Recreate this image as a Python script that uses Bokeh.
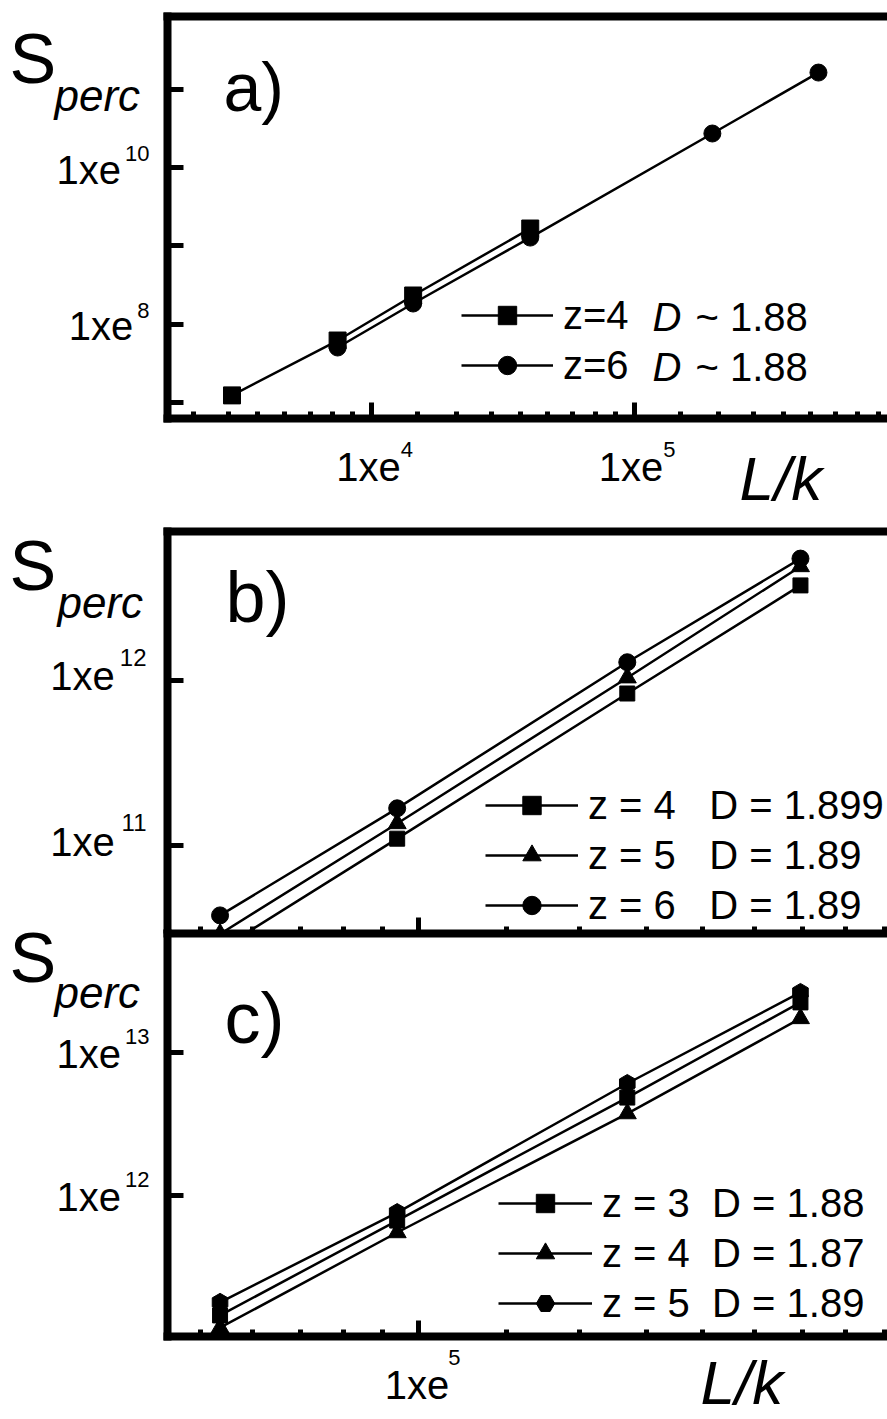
import math

from bokeh.plotting import figure
from bokeh.models import (Range1d, LogAxis, FixedTicker, Label, Legend, LegendItem,
                          CustomJSTickFormatter)
from bokeh.layouts import column
from bokeh.embed import file_html
from bokeh.resources import INLINE

FONT = "Liberation Sans"

# ---------------- data ----------------
# panel a)
A_LK_Z4 = [2941, 7421, 14390, 40160]
A_S_Z4 = [1.25e7, 6.25e7, 2.34e8, 1.67e9]
A_LK_Z6 = [7421, 14390, 40160, 198200, 502300]
A_S_Z6 = [5.09e7, 1.85e8, 1.28e9, 2.71e10, 1.62e11]
A_LEGEND = [("z=4", "1.88"), ("z=6", "1.88")]

# panels b) and c) share the same L/k values
BC_LK = [40330, 90830, 260800, 576800]
B_S_Z4 = [2.34e10, 1.10e11, 8.34e11, 3.77e12]
B_S_Z5 = [2.91e10, 1.36e11, 1.04e12, 4.91e12]
B_S_Z6 = [3.77e10, 1.68e11, 1.29e12, 5.48e12]
B_LEGEND = ["z = 4   D = 1.899", "z = 5   D = 1.89", "z = 6   D = 1.89"]

C_S_Z3 = [1.45e11, 6.68e11, 4.84e12, 2.24e13]
C_S_Z4 = [1.19e11, 5.51e11, 3.74e12, 1.73e13]
C_S_Z5 = [1.79e11, 7.60e11, 6.07e12, 2.63e13]
C_LEGEND = ["z = 3  D = 1.88", "z = 4  D = 1.87", "z = 5  D = 1.89"]

# tick values
A_XTICKS = [1e4, 1e5]
A_YTICKS = [1e7, 1e8, 1e9, 1e10, 1e11]
A_YLABELS = [(1e10, "10"), (1e8, "8")]
A_XLABELS = [(1e4, "4"), (1e5, "5")]
BC_XTICKS = [1e5]
B_YTICKS = [1e11, 1e12]
B_YLABELS = [(1e12, "12"), (1e11, "11")]
C_YTICKS = [1e12, 1e13]
C_YLABELS = [(1e13, "13"), (1e12, "12")]
C_XLABELS = [(1e5, "5")]
# position of the minor ticks inside each decade (log fraction)
MINOR_FRAC = [0.176, 0.322, 0.455, 0.566, 0.670, 0.766, 0.851, 0.929]

# ---------------- geometry ----------------
W = 887
BOX_L, BOX_R = 167, 887      # axis box, pixels from the canvas left


def minor_ticks(lo, hi):
    out = []
    for d in range(math.floor(lo), math.ceil(hi)):
        for f in MINOR_FRAC:
            if lo < d + f < hi:
                out.append(10 ** (d + f))
    return out


def log_range(lo, hi, p_lo, p_hi, c_lo, c_hi):
    """log10 values lo/hi sit at pixels p_lo/p_hi; return values at pixels c_lo/c_hi."""
    k = (hi - lo) / (p_hi - p_lo)
    return 10 ** (lo + (c_lo - p_lo) * k), 10 ** (lo + (c_hi - p_lo) * k)


def style_axis(ax, ticks, minors):
    ax.ticker = FixedTicker(ticks=ticks, minor_ticks=minors)
    ax.formatter = CustomJSTickFormatter(code="return ''")
    ax.axis_line_width = 8
    ax.axis_line_cap = "square"
    ax.axis_line_color = "black"
    ax.major_tick_in = 16
    ax.major_tick_out = 0
    ax.major_tick_line_width = 5
    ax.major_tick_line_color = "black"
    ax.minor_tick_in = 7
    ax.minor_tick_out = 0
    ax.minor_tick_line_width = 5
    ax.minor_tick_line_color = "black"
    ax.major_label_standoff = 0


class Panel:
    """One log-log panel whose axis box sits inside a larger frame."""

    def __init__(self, height, frame_bottom, box_top, box_bottom, xlog, ylog,
                 xticks, yticks, top_spine, bottom_fixed):
        fh = height - frame_bottom
        xr = log_range(xlog[0], xlog[1], BOX_L, BOX_R, 0, W)
        yr = log_range(ylog[0], ylog[1], box_bottom, box_top, fh, 0)
        p = figure(width=W, height=height, x_axis_type="log", y_axis_type="log",
                   x_range=Range1d(*xr), y_range=Range1d(*yr),
                   output_backend="svg", toolbar_location=None,
                   min_border_left=0, min_border_right=0,
                   min_border_top=0, min_border_bottom=frame_bottom)
        p.outline_line_color = None
        p.grid.visible = False
        self.x0, self.x1 = 10 ** xlog[0], 10 ** xlog[1]
        self.y0, self.y1 = 10 ** ylog[0], 10 ** ylog[1]
        xa, ya = p.xaxis[0], p.yaxis[0]
        style_axis(xa, xticks, minor_ticks(*xlog))
        style_axis(ya, yticks, [])
        xa.bounds = (self.x0, self.x1)
        ya.bounds = (self.y0, self.y1)
        ya.fixed_location = self.x0
        if bottom_fixed:
            xa.fixed_location = self.y0
        if top_spine:
            ax = LogAxis(fixed_location=self.y1)
            style_axis(ax, [], [])
            ax.major_tick_in = 0
            ax.minor_tick_in = 0
            ax.bounds = (self.x0, self.x1)
            p.add_layout(ax, "above")
        self.p = p

    def text(self, x, y, s, dx, down, size=40, style="normal", align="left"):
        # `down` = pixels from the anchor point down to the text baseline
        self.p.add_layout(Label(x=x, y=y, x_offset=dx, y_offset=-down + 0.35 * size,
                                text=s, text_font=FONT, text_font_size=f"{size}px",
                                text_font_style=style, text_align=align,
                                text_baseline="middle", text_color="black"))

    def series(self, x, y, marker, size, angle=0.0):
        ln = self.p.line(x, y, line_color="black", line_width=2.5)
        pt = self.p.scatter(x, y, marker=marker, size=size, angle=angle,
                            fill_color="black", line_color="black")
        return [ln, pt]

    def legend(self, items, vx, vy, width):
        lg = Legend(items=items, location=(vx, vy), orientation="vertical",
                    glyph_width=width, glyph_height=46, label_height=46,
                    spacing=4, padding=0, margin=0, label_standoff=10,
                    label_text_font=FONT, label_text_font_size="40px",
                    label_text_color="black",
                    border_line_color=None, background_fill_alpha=0)
        self.p.add_layout(lg)

    def title(self, letter, s_down, perc_dx, perc_down, letter_dx, letter_down, size):
        self.text(self.x0, self.y1, "S", -158, s_down, size=70)
        self.text(self.x0, self.y1, "perc", perc_dx, perc_down, size=44, style="italic")
        self.text(self.x0, self.y1, letter, letter_dx, letter_down, size=size)

    def ylabels(self, labels, dx_sup, down_main, down_sup, gap=4, sup_size=22):
        # exponent right-aligned near the axis, "1xe" placed just left of it
        for v, sup in labels:
            dx_main = dx_sup - 0.556 * sup_size * len(sup) - gap
            self.text(self.x0, v, "1xe", dx_main, down_main, align="right")
            self.text(self.x0, v, sup, dx_sup, down_sup, size=sup_size, align="right")

    def xlabels(self, labels, dx_main, down_main, dx_sup, down_sup):
        for v, sup in labels:
            self.text(v, self.y0, "1xe", dx_main, down_main, align="right")
            self.text(v, self.y0, sup, dx_sup, down_sup, size=22)


# ---------------- panel a) ----------------
A = Panel(520, 0, 16, 418, (3.2229, 5.9638), (6.8025, 11.9236),
          A_XTICKS, A_YTICKS, True, True)
ra4 = A.series(A_LK_Z4, A_S_Z4, "square", 17)
ra6 = A.series(A_LK_Z6, A_S_Z6, "circle", 17)
A.legend([LegendItem(label=A_LEGEND[0][0], renderers=ra4),
          LegendItem(label=A_LEGEND[1][0], renderers=ra6)], 461, 132, 92)
for i, (_, dval) in enumerate(A_LEGEND):
    A.text(A.x0, A.y1, "D", 485, 314 + 50 * i, style="italic")
    A.text(A.x0, A.y1, "~ " + dval, 528, 314 + 50 * i)
A.title("a)", 67, -113, 94, 56, 94, 68)
A.ylabels(A_YLABELS, -18, 16, -6)
A.xlabels(A_XLABELS, 29, 62, 29, 39)
A.text(A.x0, A.y0, "L/k", 572, 82, size=62, style="italic")

# ---------------- panel b) ----------------
BC_X = (4.501, 5.9343)
B = Panel(420, 7, 11, 413, BC_X, (10.4667, 12.903),
          BC_XTICKS, B_YTICKS, True, False)
rb4 = B.series(BC_LK, B_S_Z4, "square", 15)
rb5 = B.series(BC_LK, B_S_Z5, "triangle", 18)
rb6 = B.series(BC_LK, B_S_Z6, "circle", 17)
B.legend([LegendItem(label=B_LEGEND[0], renderers=rb4),
          LegendItem(label=B_LEGEND[1], renderers=rb5),
          LegendItem(label=B_LEGEND[2], renderers=rb6)], 485, 5, 93)
B.title("b)", 59, -110, 86, 58, 91, 72)
B.ylabels(B_YLABELS, -21, 10, -15, gap=5, sup_size=24)

# ---------------- panel c) ----------------
C = Panel(519, 0, 33, 436, BC_X, (11.014, 13.832),
          BC_XTICKS, C_YTICKS, False, True)
C.p.background_fill_color = None
C.p.border_fill_color = None
C.p.margin = (-40, 0, 0, 0)      # overlap the bottom edge of panel b)
rc3 = C.series(BC_LK, C_S_Z3, "square", 15)
rc4 = C.series(BC_LK, C_S_Z4, "triangle", 18)
rc5 = C.series(BC_LK, C_S_Z5, "hex", 18, angle=math.pi / 2)
C.legend([LegendItem(label=C_LEGEND[0], renderers=rc3),
          LegendItem(label=C_LEGEND[1], renderers=rc4),
          LegendItem(label=C_LEGEND[2], renderers=rc5)], 498, 93, 94)
C.title("c)", 49, -113, 74, 57, 110, 72)
C.ylabels(C_YLABELS, -18, 16, -8)
C.xlabels(C_XLABELS, 31, 62, 30, 29)
C.text(C.x0, C.y0, "L/k", 533, 68, size=62, style="italic")

layout = column(A.p, B.p, C.p, spacing=0)
open("out.html", "w").write(file_html(layout, INLINE))
